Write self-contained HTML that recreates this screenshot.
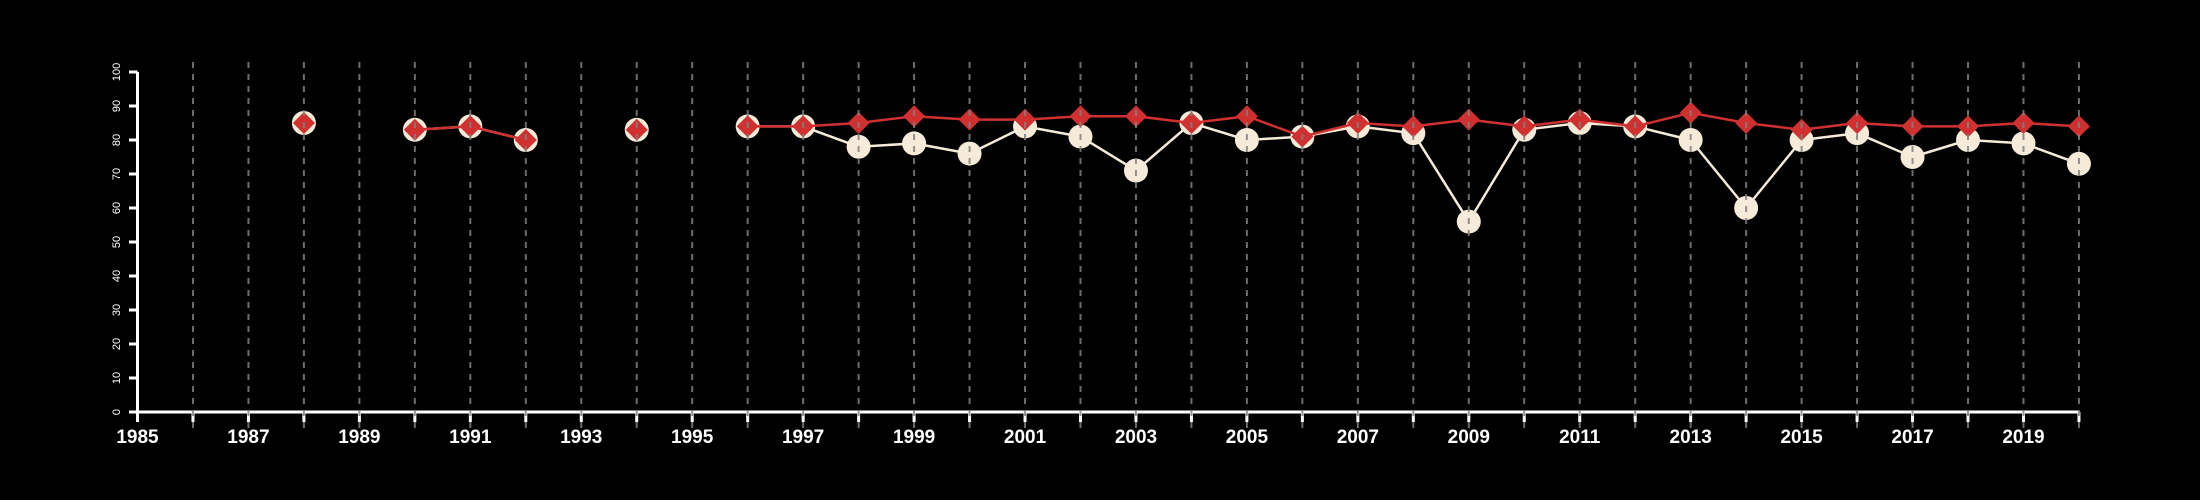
<!DOCTYPE html>
<html><head><meta charset="utf-8"><style>html,body{margin:0;background:#000}svg{display:block}</style></head>
<body>
<svg id="c" width="2200" height="500" xmlns="http://www.w3.org/2000/svg" font-family="Liberation Sans, sans-serif"></svg>
<script>
const s=document.getElementById('c');
const X=y=>137.5+(y-1985)*55.47, Y=v=>412-v*3.4;
let h='';
h+=`<line x1="${X(1985)}" y1="${Y(0)}" x2="${X(2020)}" y2="${Y(0)}" stroke="#fff" stroke-width="3"/>`;
h+=`<line x1="${X(1985)}" y1="${Y(0)}" x2="${X(1985)}" y2="${Y(100)}" stroke="#fff" stroke-width="3"/>`;
for(let y=1985;y<=2020;y++){h+=`<line x1="${X(y)}" y1="412" x2="${X(y)}" y2="422" stroke="#fff" stroke-width="3"/>`;
 if((y-1985)%2==0)h+=`<text x="${X(y)}" y="443" fill="#fff" font-size="19" font-weight="bold" text-anchor="middle">${y}</text>`;}
for(let v=0;v<=100;v+=10){h+=`<line x1="129" y1="${Y(v)}" x2="${X(1985)}" y2="${Y(v)}" stroke="#fff" stroke-width="3"/>`;
 h+=`<text transform="translate(120,${Y(v)}) rotate(-90)" fill="#fff" font-size="11" text-anchor="middle">${v}</text>`;}
const yrs=[1988,1990,1991,1992,1994,1996,1997,1998,1999,2000,2001,2002,2003,2004,2005,2006,2007,2008,2009,2010,2011,2012,2013,2014,2015,2016,2017,2018,2019,2020];
const R=[85,83,84,80,83,84,84,85,87,86,86,87,87,85,87,81,85,84,86,84,86,84,88,85,83,85,84,84,85,84];
const W=[85,83,84,80,83,84,84,78,79,76,84,81,71,85,80,81,84,82,56,83,85,84,80,60,80,82,75,80,79,73];
function lines(d,c){let o='';for(let i=1;i<yrs.length;i++)if(yrs[i]-yrs[i-1]==1)o+=`<line x1="${X(yrs[i-1])}" y1="${Y(d[i-1])}" x2="${X(yrs[i])}" y2="${Y(d[i])}" stroke="${c}" stroke-width="2.5"/>`;return o;}
h+=lines(W,'#f6ead8');
yrs.forEach((y,i)=>h+=`<circle cx="${X(y)}" cy="${Y(W[i])}" r="12" fill="#f6ead8"/>`);
h+=lines(R,'#d03030');
yrs.forEach((y,i)=>{const x=X(y),v=Y(R[i]);h+=`<polygon points="${x},${v-11} ${x+11},${v} ${x},${v+11} ${x-11},${v}" fill="#d03030"/>`;});
for(let y=1986;y<=2020;y++)h+=`<line x1="${X(y)}" y1="62" x2="${X(y)}" y2="430" stroke="#808080" stroke-width="2" stroke-dasharray="6,6" opacity="0.85"/>`;
s.innerHTML=h;
</script>
</body></html>
